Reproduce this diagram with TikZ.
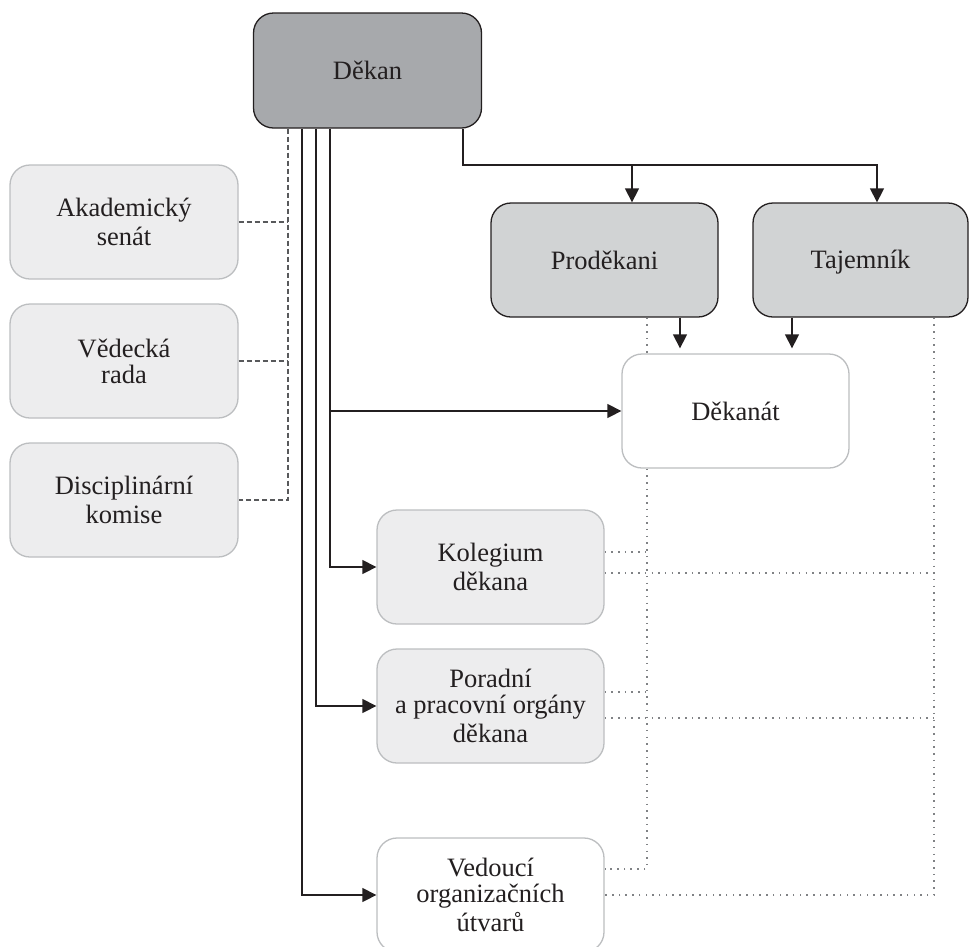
\documentclass[tikz,border=0pt]{standalone}
\usepackage{fontspec}
\setmainfont{Liberation Serif}
\usetikzlibrary{arrows.meta}
\definecolor{ink}{HTML}{231F20}
\definecolor{darkfill}{HTML}{A7A9AC}
\definecolor{midfill}{HTML}{D1D3D4}
\definecolor{lightfill}{HTML}{EDEDEE}
\definecolor{lightborder}{HTML}{BCBEC0}
\definecolor{dashgray}{HTML}{58595B}
\definecolor{dotgray}{HTML}{808285}
\newcommand\lnstrut{\rule[-4pt]{0pt}{26pt}}
\begin{document}
\begin{tikzpicture}[x=1pt,y=-1pt,
  box/.style={rectangle, rounded corners=20pt, inner sep=0pt, align=center,
    text=ink, font=\fontsize{26.5}{26}\selectfont, line width=1.3pt,
    minimum width=227pt, minimum height=114pt},
  darkbox/.style={box, draw=ink, fill=darkfill},
  midbox/.style={box, draw=ink, fill=midfill},
  lightbox/.style={box, draw=lightborder, fill=lightfill},
  whitebox/.style={box, draw=lightborder, fill=white},
  conn/.style={draw=ink, line width=1.3pt},
  arr/.style={conn, -{Triangle[length=14pt,width=14pt]}},
  dashline/.style={draw=dashgray, line width=1.3pt, dash pattern=on 5pt off 3pt},
  dotline/.style={draw=dotgray, line width=1.5pt, dash pattern=on 1.5pt off 5.2pt}]
\useasboundingbox (0,0) rectangle (969,946);

% nodes
\node[darkbox, minimum width=228pt, minimum height=115pt] (dekan) at (367.5,70.5) {\lnstrut Děkan};
\node[midbox] (prod) at (604.5,260) {\lnstrut Proděkani};
\node[midbox, minimum width=215pt] (taj) at (860.5,260) {\lnstrut Tajemník};
\node[whitebox] (dekanat) at (735.5,411) {\lnstrut Děkanát};
\node[lightbox, minimum width=228pt] (akad) at (124,222) {\lnstrut Akademický\\senát\lnstrut};
\node[lightbox, minimum width=228pt] (ved) at (124,361) {\lnstrut Vědecká\\rada\lnstrut};
\node[lightbox, minimum width=228pt] (disc) at (124,500) {\lnstrut Disciplinární\\komise\lnstrut};
\node[lightbox] (kol) at (490.5,567) {\lnstrut Kolegium\\děkana\lnstrut};
\node[lightbox] (por) at (490.5,706) {\lnstrut Poradní\\a pracovní orgány\\děkana\lnstrut};
\node[whitebox] (vedouci) at (490.5,895) {\lnstrut Vedoucí\\organizačních\\útvarů\lnstrut};

% helper coordinates
\coordinate (xA) at (288,0);
\coordinate (xB) at (302,0);
\coordinate (xC) at (316,0);
\coordinate (xD) at (330,0);
\coordinate (xE) at (463,0);
\coordinate (xP) at (632,0);
\coordinate (xT) at (877,0);
\coordinate (xQ) at (680,0);
\coordinate (xR) at (792,0);
\coordinate (xS) at (647,0);
\coordinate (xU) at (934,0);
\coordinate (yH) at (0,165);
\coordinate (k1) at ([yshift=15pt]kol.east);
\coordinate (k2) at ([yshift=-6pt]kol.east);
\coordinate (p1) at ([yshift=14pt]por.east);
\coordinate (p2) at ([yshift=-12pt]por.east);
\coordinate (v1) at ([yshift=26pt]vedouci.east);

% dashed links to left bodies
\draw[dashline] (dekan.south -| xA) -- (disc.east -| xA) -- (disc.east);
\draw[dashline] (akad.east) -- (akad.east -| xA);
\draw[dashline] (ved.east) -- (ved.east -| xA);

% solid links from Dekan
\draw[arr] (dekan.south -| xD) |- (kol.west);
\draw[arr] (dekanat.west -| xD) -- (dekanat.west);
\draw[arr] (dekan.south -| xC) |- (por.west);
\draw[arr] (dekan.south -| xB) |- (vedouci.west);
\draw[arr] (dekan.south -| xE) -- (xE |- yH) -| (taj.north -| xT);
\draw[arr] (xP |- yH) -- (prod.north -| xP);
\draw[arr, shorten >=5pt] (prod.south -| xQ) -- (dekanat.north -| xQ);
\draw[arr, shorten >=5pt] (taj.south -| xR) -- (dekanat.north -| xR);

% dotted links
\draw[dotline] (prod.south -| xS) -- (dekanat.north -| xS);
\draw[dotline] (dekanat.south -| xS) |- (v1);
\draw[dotline] (k1) -- (k1 -| xS);
\draw[dotline] (p1) -- (p1 -| xS);
\draw[dotline] (taj.south -| xU) |- (vedouci.east);
\draw[dotline] (k2) -- (k2 -| xU);
\draw[dotline] (p2) -- (p2 -| xU);
\end{tikzpicture}
\end{document}
